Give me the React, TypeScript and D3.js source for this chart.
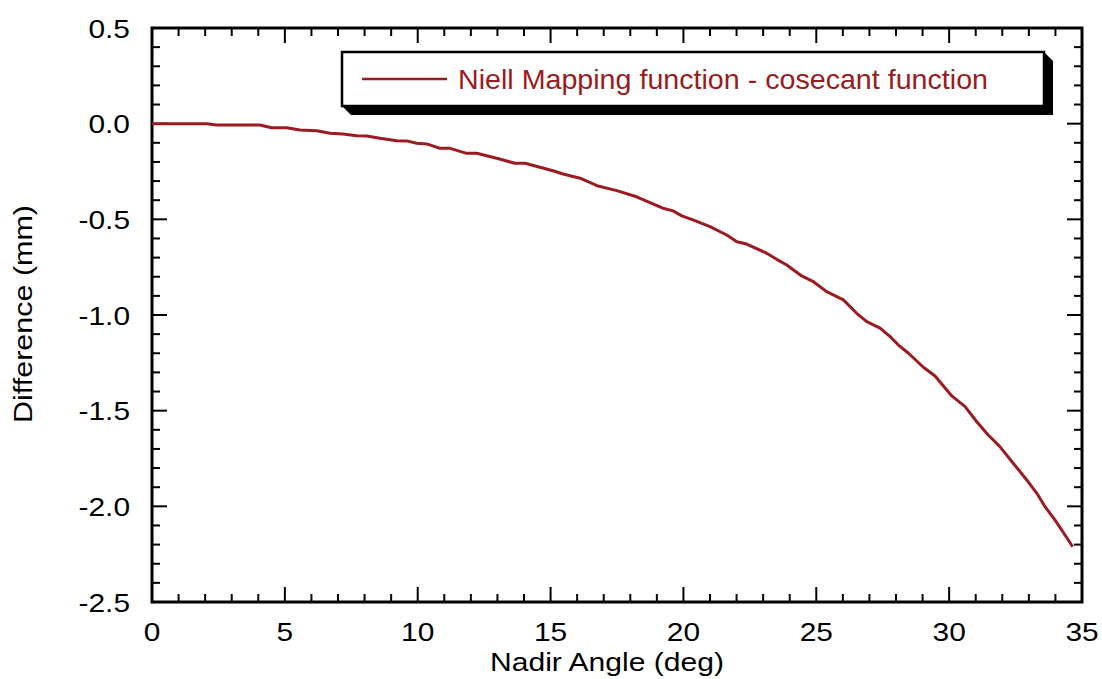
import React from "react";
import * as d3 from "d3";

const nadirDeg = [
  0, 2.06, 2.43, 4.06, 4.5, 5.07, 5.57, 6.2, 6.7, 7.19, 7.7, 8.08, 8.58, 9.21, 9.59, 9.96,
  10.34, 10.84, 11.22, 11.84, 12.22, 12.97, 13.66, 14.04, 14.6, 15.09, 15.47, 16.11, 16.79,
  17.49, 18.24, 18.74, 19.23, 19.61, 19.94, 20.36, 20.62, 21.0, 21.63, 22.01, 22.38, 23.13,
  23.51, 23.89, 24.45, 24.89, 25.39, 26.02, 26.52, 26.9, 27.4, 27.78, 28.09, 28.47, 29.03,
  29.47, 30.1, 30.6, 31.04, 31.47, 31.91, 32.41, 32.92, 33.3, 33.61, 33.98, 34.36, 34.65,
];
const differenceMm = [
  0, 0, -0.007, -0.007, -0.021, -0.021, -0.033, -0.037, -0.05, -0.054, -0.063, -0.064, -0.076,
  -0.089, -0.09, -0.102, -0.106, -0.129, -0.129, -0.155, -0.155, -0.181, -0.207, -0.207,
  -0.228, -0.246, -0.263, -0.285, -0.326, -0.35, -0.382, -0.413, -0.442, -0.456, -0.482,
  -0.503, -0.517, -0.538, -0.582, -0.617, -0.629, -0.677, -0.709, -0.739, -0.796, -0.826,
  -0.878, -0.921, -0.991, -1.035, -1.069, -1.113, -1.157, -1.2, -1.273, -1.319, -1.423,
  -1.479, -1.558, -1.627, -1.688, -1.775, -1.862, -1.932, -2.002, -2.071, -2.15, -2.211,
];
const xTickLabels = [0, 5, 10, 15, 20, 25, 30, 35];
const yTickLabels = [0.5, 0.0, -0.5, -1.0, -1.5, -2.0, -2.5];
const seriesName = "Niell Mapping function - cosecant function";
const xTitle = "Nadir Angle (deg)";
const yTitle = "Difference (mm)";

const W = 1102;
const H = 679;
const L = 152, R = 1082, T = 28, B = 602;
const RED = "#9b1b20";
const FONT = "'Liberation Sans', Arial, Helvetica, sans-serif";

export default function App() {
  const x = d3.scaleLinear().domain([0, 35]).range([L, R]);
  const y = d3.scaleLinear().domain([-2.5, 0.5]).range([B, T]);
  const data = nadirDeg.map((d, i) => [d, differenceMm[i]] as [number, number]);
  const line = d3.line<[number, number]>().x((d) => x(d[0])).y((d) => y(d[1]));

  const xMinor = d3.range(0, 35.001, 1).filter((v) => v % 5 !== 0);
  const yMinor = d3.range(-25, 5.001, 1).map((v) => v / 10).filter((v) => Math.abs(Math.round(v * 10)) % 5 !== 0);
  const MAJ = 15, MIN = 8;

  const bx0 = 342, by0 = 52, bx1 = 1044, by1 = 106, sh = 9;

  return (
    <svg width={W} height={H} style={{ position: "absolute", left: 0, top: 0, background: "#fff" }}>
      <rect x={0} y={0} width={W} height={H} fill="#fff" />
      <g stroke="#000" strokeWidth={2}>
        {xTickLabels.map((v) => (
          <g key={"xm" + v}>
            <line x1={x(v)} x2={x(v)} y1={B} y2={B - MAJ} />
            <line x1={x(v)} x2={x(v)} y1={T} y2={T + MAJ} />
          </g>
        ))}
        {xMinor.map((v) => (
          <g key={"xn" + v}>
            <line x1={x(v)} x2={x(v)} y1={B} y2={B - MIN} />
            <line x1={x(v)} x2={x(v)} y1={T} y2={T + MIN} />
          </g>
        ))}
        {yTickLabels.map((v) => (
          <g key={"ym" + v}>
            <line x1={L} x2={L + MAJ} y1={y(v)} y2={y(v)} />
            <line x1={R} x2={R - MAJ} y1={y(v)} y2={y(v)} />
          </g>
        ))}
        {yMinor.map((v) => (
          <g key={"yn" + v}>
            <line x1={L} x2={L + MIN} y1={y(v)} y2={y(v)} />
            <line x1={R} x2={R - MIN} y1={y(v)} y2={y(v)} />
          </g>
        ))}
      </g>
      <rect x={L} y={T} width={R - L} height={B - T} fill="none" stroke="#000" strokeWidth={3} />
      <path d={line(data) || ""} fill="none" stroke={RED} strokeWidth={3} strokeLinejoin="round" />
      <g fontFamily={FONT} fontSize={26} fill="#000">
        {xTickLabels.map((v) => (
          <text key={"xl" + v} transform={`translate(${x(v)},641) scale(1.15,1)`} textAnchor="middle">
            {String(v)}
          </text>
        ))}
        {yTickLabels.map((v) => (
          <text key={"yl" + v} transform={`translate(130,${y(v) + 9.5}) scale(1.15,1)`} textAnchor="end">
            {v.toFixed(1)}
          </text>
        ))}
      </g>
      <text x={607} y={671} fontFamily={FONT} fontSize={26} textAnchor="middle" textLength={234} lengthAdjust="spacingAndGlyphs">
        {xTitle}
      </text>
      <text transform={`translate(32,314) rotate(-90)`} fontFamily={FONT} fontSize={26} textAnchor="middle" textLength={218} lengthAdjust="spacingAndGlyphs">
        {yTitle}
      </text>
      <polygon
        points={`${bx1},${by0} ${bx1 + sh},${by0 + sh} ${bx1 + sh},${by1 + sh} ${bx0 + sh},${by1 + sh} ${bx0},${by1}`}
        fill="#000"
      />
      <rect x={bx0} y={by0} width={bx1 - bx0} height={by1 - by0} fill="#fff" stroke="#000" strokeWidth={2.5} />
      <line x1={362} x2={447} y1={79} y2={79} stroke={RED} strokeWidth={2.5} />
      <text x={458} y={89} fontFamily={FONT} fontSize={28} fill={RED} textLength={530} lengthAdjust="spacingAndGlyphs">
        {seriesName}
      </text>
    </svg>
  );
}
